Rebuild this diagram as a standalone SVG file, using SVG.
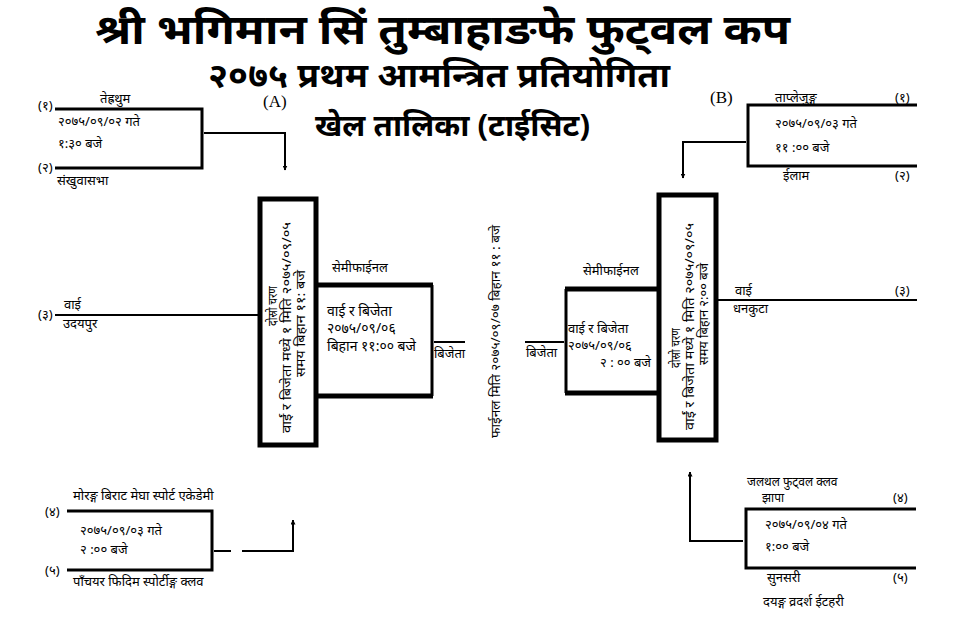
<svg xmlns="http://www.w3.org/2000/svg" width="960" height="640" viewBox="0 0 960 640">
<defs>
<style>
text{font-family:"Noto Sans","Noto Sans Devanagari","Lohit Devanagari",sans-serif;fill:#000}
.t{font-size:13px}
.s{font-size:12px}
.m{font-size:14px}
.h1{font-size:42px;font-weight:bold}
.h2{font-size:34px;font-weight:bold}
.h3{font-size:31px;font-weight:bold}
.ab{font-family:"Liberation Serif",serif;font-size:17px}
.ln{stroke:#000;stroke-width:3;fill:none}
.th{stroke:#000;stroke-width:5;fill:none}
.cn{stroke:#000;stroke-width:2;fill:none}
</style>
<marker id="ar" viewBox="0 0 10 10" refX="9" refY="5" markerWidth="5" markerHeight="5" orient="auto" markerUnits="userSpaceOnUse">
<path d="M0,0 L10,5 L0,10 z" fill="#000"/>
</marker>
</defs>
<rect width="960" height="640" fill="#fff"/>
<g id="title">
<text class="h1" x="95" y="44" textLength="695" lengthAdjust="spacingAndGlyphs">श्री भगिमान सिं तुम्बाहाङफे फुट्वल कप</text>
<text class="h2" x="208" y="87" textLength="462" lengthAdjust="spacingAndGlyphs">२०७५ प्रथम आमन्त्रित प्रतियोगिता</text>
<text class="h3" x="315" y="136" textLength="275" lengthAdjust="spacingAndGlyphs">खेल तालिका (टाईसिट)</text>
<text class="ab" x="263" y="107">(A)</text>
<text class="ab" x="710" y="103">(B)</text>
</g>
<g id="connectors">
<path class="cn" d="M204,133 H285 V170" marker-end="url(#ar)"/>
<path class="cn" d="M746,142 H683 V178" marker-end="url(#ar)"/>
<path class="cn" d="M214,551 H231 M242,551 H293 V520" marker-end="url(#ar)"/>
<path class="cn" d="M743,541 H690 V472" marker-end="url(#ar)"/>
<path class="cn" d="M55,315 H259"/>
<path class="cn" d="M718,300 H917"/>
<path class="cn" d="M434,342 H465"/>
<path class="cn" d="M525,342 H564"/>
</g>
<g id="match1">
<path class="ln" d="M55,109 H202 V168 H55"/>
<text class="t" x="38" y="110">(१)</text>
<text class="t" x="100" y="103">तेह्रथुम</text>
<text class="t" x="58" y="126">२०७५/०९/०२ गते</text>
<text class="t" x="58" y="148">१:३० बजे</text>
<text class="t" x="38" y="172">(२)</text>
<text class="t" x="57" y="185">संखुवासभा</text>
</g>
<g id="bye3a">
<text class="t" x="38" y="319">(३)</text>
<text class="t" x="64" y="309">वाई</text>
<text class="t" x="63" y="328">उदयपुर</text>
</g>
<g id="round2a">
<rect class="th" x="260" y="199" width="56" height="246"/>
<text class="s" transform="translate(277,326) rotate(-90)" textLength="40" lengthAdjust="spacingAndGlyphs">दोस्रो चरण</text>
<text class="s" transform="translate(291,433) rotate(-90)" textLength="211" lengthAdjust="spacingAndGlyphs">वाईं र बिजेता मध्ये १ मिति २०७५/०९/०५</text>
<text class="s" transform="translate(305,377) rotate(-90)" textLength="107" lengthAdjust="spacingAndGlyphs">समय बिहान ११: बजे</text>
</g>
<g id="semi1">
<text class="t" x="332" y="272">सेमीफाईनल</text>
<path class="th" d="M318,285 H433"/>
<path class="th" d="M318,396 H433"/>
<path class="ln" d="M432,285 V396"/>
<text class="m" x="327" y="316">वाई र बिजेता</text>
<text class="m" x="327" y="333">२०७५/०९/०६</text>
<text class="m" x="327" y="351">बिहान ११:०० बजे</text>
<text class="t" x="434" y="358">बिजेता</text>
</g>
<g id="final">
<text class="t" transform="translate(500,438) rotate(-90)" textLength="213" lengthAdjust="spacingAndGlyphs">फाईनल मिति २०७५/०९/०७ बिहान ११ : बजे</text>
</g>
<g id="semi2">
<text class="t" x="583" y="275">सेमीफाईनल</text>
<path class="th" d="M565,289 H657"/>
<path class="th" d="M565,393 H657"/>
<path class="ln" d="M566,289 V393"/>
<text class="t" x="568" y="333">वाई र बिजेता</text>
<text class="t" x="568" y="350">२०७५/०९/०६</text>
<text class="t" x="600" y="367">२ : ०० बजे</text>
<text class="t" x="526" y="357">बिजेता</text>
</g>
<g id="round2b">
<rect class="th" x="659" y="195" width="57" height="245"/>
<text class="s" transform="translate(680,368) rotate(-90)" textLength="40" lengthAdjust="spacingAndGlyphs">दोस्रो चरण</text>
<text class="s" transform="translate(694,430) rotate(-90)" textLength="207" lengthAdjust="spacingAndGlyphs">वाईं र बिजेता मध्ये १ मिति २०७५/०९/०५</text>
<text class="s" transform="translate(708,365) rotate(-90)" textLength="102" lengthAdjust="spacingAndGlyphs">समय बिहान २:०० बजे</text>
</g>
<g id="match2">
<path class="ln" d="M917,105 H748 V166 H917"/>
<text class="t" x="775" y="102">ताप्लेजुङ्ग</text>
<text class="t" x="895" y="102">(१)</text>
<text class="t" x="775" y="128">२०७५/०९/०३ गते</text>
<text class="t" x="775" y="152">११ :०० बजे</text>
<text class="t" x="783" y="180">ईलाम</text>
<text class="t" x="895" y="180">(२)</text>
</g>
<g id="bye3b">
<text class="t" x="735" y="295">वाई</text>
<text class="t" x="895" y="295">(३)</text>
<text class="t" x="733" y="313">धनकुटा</text>
</g>
<g id="match3">
<path class="ln" d="M67,511 H212 V570 H67"/>
<text class="t" x="73" y="500">मोरङ्ग बिराट मेघा स्पोर्ट एकेडेमी</text>
<text class="t" x="45" y="516">(४)</text>
<text class="t" x="80" y="535">२०७५/०९/०३ गते</text>
<text class="t" x="80" y="554">२ :०० बजे</text>
<text class="t" x="45" y="575">(५)</text>
<text class="t" x="73" y="586">पाँचयर फिदिम स्पोर्टीङ्ग क्लव</text>
</g>
<g id="match4">
<path class="ln" d="M916,509 H746 V568 H916"/>
<text class="s" x="747" y="486">जलथल फुट्वल क्लव</text>
<text class="s" x="762" y="502">झापा</text>
<text class="t" x="893" y="502">(४)</text>
<text class="t" x="765" y="529">२०७५/०९/०४ गते</text>
<text class="t" x="765" y="551">१:०० बजे</text>
<text class="t" x="767" y="582">सुनसरी</text>
<text class="t" x="893" y="582">(५)</text>
<text class="t" x="763" y="606">दयङ्ग व्रदर्श ईटहरी</text>
</g>
</svg>
